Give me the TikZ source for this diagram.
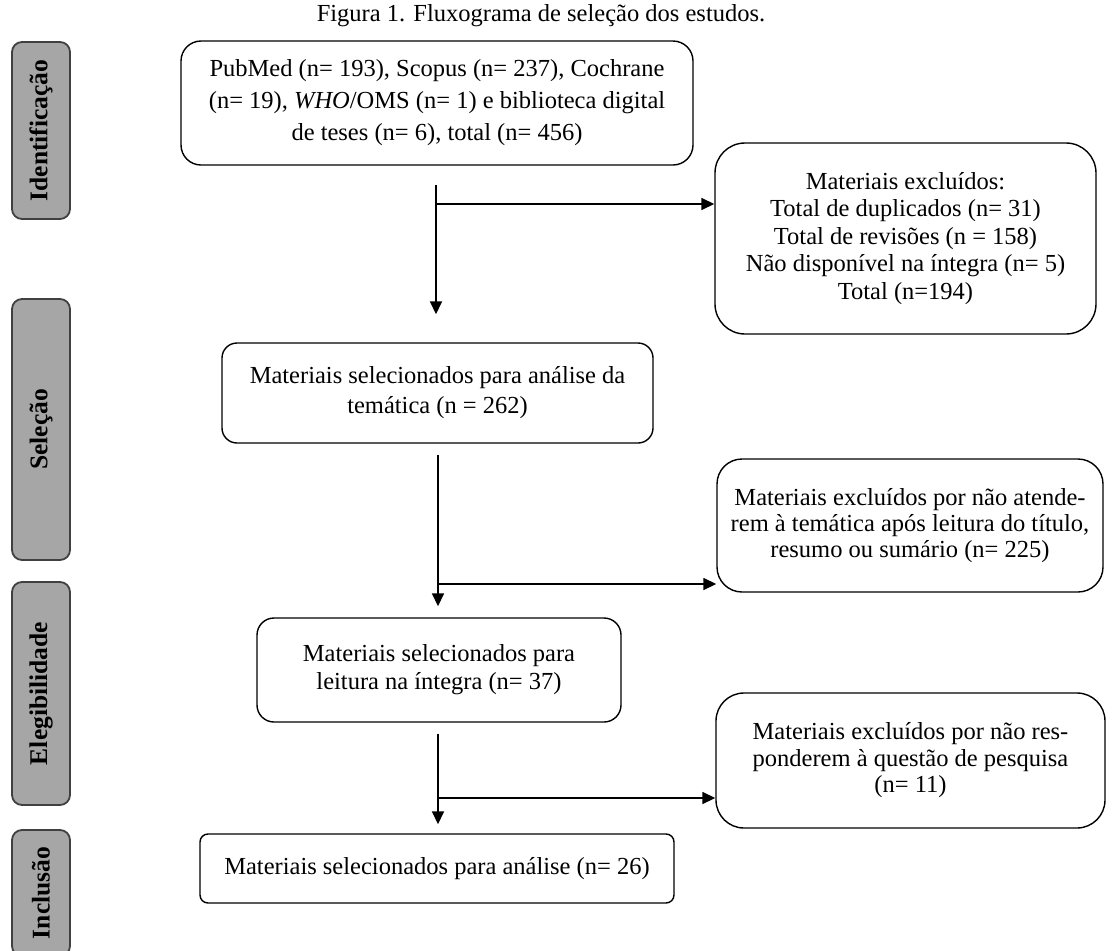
\documentclass[tikz,border=0pt]{standalone}
\usepackage{fontspec}
\setmainfont{Liberation Serif}
\usetikzlibrary{arrows.meta}
\definecolor{phasefill}{HTML}{A6A6A6}
\definecolor{phaseline}{HTML}{404040}
\begin{document}
\begin{tikzpicture}[x=1pt,y=-1pt,
  flowbox/.style={draw=black, line width=1.4pt, align=center, inner sep=0pt},
  phase/.style={draw=phaseline, fill=phasefill, line width=1.8pt, rounded corners=10pt,
    rotate=90, minimum height=58pt, inner sep=0pt,
    font=\fontsize{25.5}{28}\selectfont\bfseries},
  arr/.style={line width=1.6pt, -{Triangle[length=13pt,width=12pt]}},
  fs/.style={font=\fontsize{24.5}{#1}\selectfont}
]
\useasboundingbox (0,0) rectangle (1120,951);

% title
\node[fs=28, anchor=base, inner sep=0pt] (title) at (541,21) {Figura 1. Fluxograma de seleção dos estudos.};

% phase labels
\node[phase, minimum width=177pt] (pI) at (41,130.5) {Identificação};
\node[phase, minimum width=261pt] (pS) at (41,429.5) {Seleção};
\node[phase, minimum width=223pt] (pE) at (41,693.5) {Elegibilidade};
\node[phase, minimum width=126pt] (pN) at (41,893) {Inclusão};

% flow boxes
\node[flowbox, fs=32, rounded corners=20pt, minimum width=512pt, minimum height=124pt] (b1) at (437,103)
 {PubMed (n= 193), Scopus (n= 237), Cochrane\\(n= 19), \textit{WHO}/OMS (n= 1) e biblioteca digital\\de teses (n= 6), total (n= 456)};

\node[flowbox, fs=27.5, rounded corners=30pt, minimum width=381pt, minimum height=191pt] (b2) at (905.5,238.5)
 {Materiais excluídos:\\Total de duplicados (n= 31)\\Total de revisões (n = 158)\\Não disponível na íntegra (n= 5)\\Total (n=194)};

\node[flowbox, fs=30, rounded corners=15pt, minimum width=431pt, minimum height=100pt] (b3) at (437.5,393)
 {Materiais selecionados para análise da\\temática (n = 262)};

\node[flowbox, fs=26, rounded corners=25pt, minimum width=386pt, minimum height=133pt] (b4) at (910,525.5)
 {Materiais excluídos por não atende-\\rem à temática após leitura do título,\\resumo ou sumário (n= 225)};

\node[flowbox, fs=28, rounded corners=17pt, minimum width=364pt, minimum height=104pt] (b5) at (439,670)
 {Materiais selecionados para\\leitura na íntegra (n= 37)};

\node[flowbox, fs=26.5, rounded corners=28pt, minimum width=389pt, minimum height=135pt] (b6) at (910.5,760.5)
 {Materiais excluídos por não res-\\ponderem à questão de pesquisa\\(n= 11)};

\node[flowbox, fs=28, rounded corners=8pt, minimum width=474pt, minimum height=69pt] (b7) at (437,868.5)
 {Materiais selecionados para análise (n= 26)};

% junction points
\coordinate (j1) at (436,204);
\coordinate (j2) at (438,584);
\coordinate (j3) at (438,798);

% connectors
\draw[arr, shorten <=19pt, shorten >=28pt] (b1.south -| j1) -- (b3.north -| j1);
\draw[arr] (j1) -- (j1 -| b2.west);
\draw[arr, shorten <=11pt, shorten >=11pt] (b3.south -| j2) -- (b5.north -| j2);
\draw[arr] (j2) -- (j2 -| b4.west);
\draw[arr, shorten <=11pt, shorten >=9pt] (b5.south -| j3) -- (b7.north -| j3);
\draw[arr] (j3) -- (j3 -| b6.west);
\end{tikzpicture}
\end{document}
